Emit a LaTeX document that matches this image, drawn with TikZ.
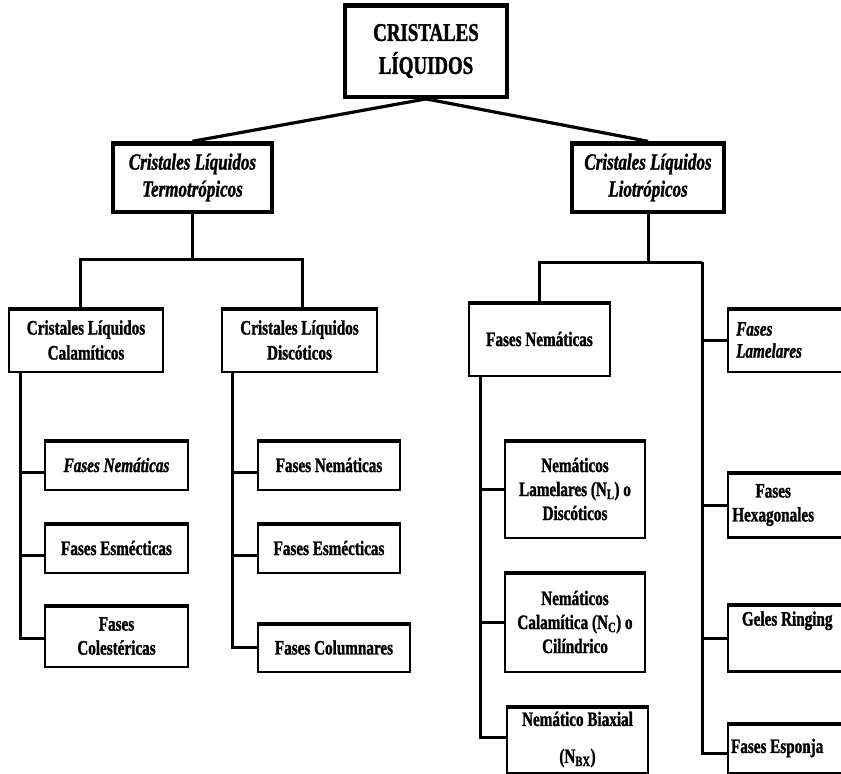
\documentclass[tikz,border=0pt]{standalone}
\usepackage{fontspec}
\setmainfont{Liberation Serif}[FakeStretch=0.74,BoldFeatures={FakeBold=1.3},BoldItalicFeatures={FakeBold=1.3}]
\begin{document}
\begin{tikzpicture}[x=1pt,y=-1pt,
  bx/.style={draw, line width=2.4pt, align=center, inner sep=2pt,
    font=\fontsize{20.5}{24}\selectfont\bfseries,
    path picture={\fill (path picture bounding box.north west) rectangle ([yshift=-2.5pt]path picture bounding box.north east);
                  \fill (path picture bounding box.south west) rectangle ([yshift=1.2pt]path picture bounding box.south east);}},
  bigbx/.style={bx, line width=3.4pt},
  itbx/.style={bx, font=\fontsize{20.5}{24}\selectfont\bfseries\itshape},
  rbx/.style={bx, anchor=west, align=flush left, text width=124pt, inner xsep=8pt, inner ysep=2pt},
  conn/.style={line width=3pt}]
\useasboundingbox (0,0) rectangle (841,774);
\clip (0,0) rectangle (841,774);

% level 0
\node[bigbx, line width=3.8pt, minimum width=162, minimum height=92,
      font=\fontsize{25.5}{33}\selectfont\bfseries] (top) at (426,51) {CRISTALES\\LÍQUIDOS};
% level 1
\node[bigbx, minimum width=159, minimum height=69,
      font=\fontsize{23}{27}\selectfont\bfseries\itshape] (termo) at (192.5,177.5) {Cristales Líquidos\\Termotrópicos};
\node[bigbx, minimum width=152, minimum height=69,
      font=\fontsize{23}{27}\selectfont\bfseries\itshape] (lio) at (648,177.5) {Cristales Líquidos\\Liotrópicos};
% level 2
\node[bx, minimum width=154, minimum height=64, font=\fontsize{20.5}{25}\selectfont\bfseries] (cal) at (86,340) {Cristales Líquidos\\Calamíticos};
\node[bx, minimum width=155, minimum height=64, font=\fontsize{20.5}{25}\selectfont\bfseries] (disc) at (299.5,340) {Cristales Líquidos\\Discóticos};
\node[bx, minimum width=141, minimum height=74] (fnr) at (539.5,339) {Fases Nemáticas};
\node[rbx, minimum height=64, font=\fontsize{20.5}{22}\selectfont\bfseries\itshape] (lam) at (727,340) {Fases\\Lamelares};
% level 3 left
\node[itbx, minimum width=143, minimum height=50] (lfn) at (116.5,465) {Fases Nemáticas};
\node[bx, minimum width=143, minimum height=50] (lfe) at (116.5,548) {Fases Esmécticas};
\node[bx, minimum width=143, minimum height=62] (lfc) at (116.5,636) {Fases\\Colestéricas};
\node[bx, minimum width=142, minimum height=50] (dfn) at (329,465) {Fases Nemáticas};
\node[bx, minimum width=142, minimum height=50] (dfe) at (329,548) {Fases Esmécticas};
\node[bx, minimum width=152, minimum height=49] (dfc) at (334,647.5) {Fases Columnares};
% level 3 right
\node[bx, minimum width=140, minimum height=98] (nl) at (575,489) {Nemáticos\\Lamelares (N\textsubscript{L}) o\\Discóticos};
\node[bx, minimum width=140, minimum height=100] (nc) at (575,622) {Nemáticos\\Calamítica (N\textsubscript{C}) o\\Cilíndrico};
\node[bx, minimum width=141, minimum height=67] (nb) at (577.5,739.5) {Nemático Biaxial\\[13pt](N\textsubscript{BX})};
\node[rbx, minimum height=65] (hex) at (727,505) {\makebox[74pt]{Fases}\\\makebox[74pt]{Hexagonales}};
\node[rbx, minimum height=67, font=\fontsize{20.5}{30}\selectfont\bfseries] (gel) at (727,638) {\makebox[102pt]{Geles Ringing}\\\strut};
\node[rbx, minimum height=50] (esp) at (727,748) {\makebox[82pt]{Fases Esponja}};

% connectors level 0-1
\draw[conn, line width=3.2pt] (top.south) -- (termo.north);
\draw[conn, line width=3.2pt] (top.south) -- (lio.north);
% left bar
\coordinate (lbar) at (192.5,259);
\draw[conn] (termo.south) -- (lbar);
\draw[conn] ([xshift=-6pt]cal.north) |- (lbar) -| ([xshift=3pt]disc.north);
% right bar
\coordinate (rbar) at (648,262);
\coordinate (rv) at (702,262);
\draw[conn] (lio.south) -- (rbar);
\draw[conn] (fnr.north) |- (rbar) -- (rv);
\draw[conn] (rv) |- ([yshift=-5pt]esp.west);
\draw[conn] (lam.west) -- ++(-25,0);
\draw[conn] (hex.west) -- ++(-25,0);
\draw[conn] (gel.west) -- ++(-25,0);
% Calamiticos children
\coordinate (cv) at ([xshift=13pt]cal.south west);
\draw[conn] (cv) |- ([yshift=-2pt]lfc.west);
\draw[conn] ([yshift=-7pt]lfn.west) -- ++(-23,0);
\draw[conn] ([yshift=-7pt]lfe.west) -- ++(-23,0);
% Discoticos children
\coordinate (dv) at ([xshift=12pt]disc.south west);
\draw[conn] (dv) |- (dfc.west);
\draw[conn] ([yshift=-7pt]dfn.west) -- ++(-24,0);
\draw[conn] ([yshift=-7pt]dfe.west) -- ++(-24,0);
% Fases Nematicas (liotropicos) children
\coordinate (nv) at ([xshift=13pt]fnr.south west);
\draw[conn] (nv) |- ([yshift=2pt]nb.west);
\draw[conn] (nl.west) -- ++(-23,0);
\draw[conn] (nc.west) -- ++(-23,0);
\end{tikzpicture}
\end{document}
